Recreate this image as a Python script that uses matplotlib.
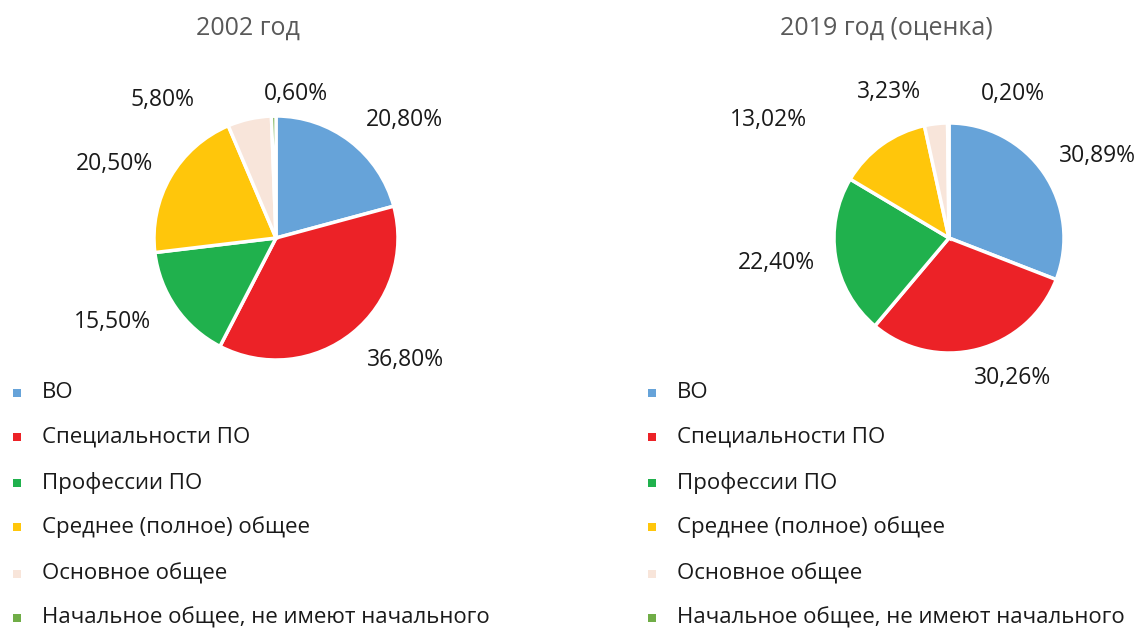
import matplotlib.pyplot as plt
from matplotlib.patches import Rectangle

plt.rcParams['font.family'] = ['Open Sans', 'DejaVu Sans']

categories = ['ВО', 'Специальности ПО', 'Профессии ПО', 'Среднее (полное) общее',
              'Основное общее', 'Начальное общее, не имеют начального']
values_2002 = [20.80, 36.80, 15.50, 20.50, 5.80, 0.60]
values_2019 = [30.89, 30.26, 22.40, 13.02, 3.23, 0.20]
titles = ['2002 год', '2019 год (оценка)']
colors = ['#66A3D9', '#EC2227', '#20B14D', '#FFC60B', '#F8E5DA', '#70AD47']

W, H = 1142, 630
fig = plt.figure(figsize=(W / 100, H / 100), dpi=100)

# label positions in radius units (excel "best fit" placement)
lab_pos = [
    [(1.05, 0.97), (1.06, -1.0), (-1.34, -0.69), (-1.32, 0.61), (-0.93, 1.13), (0.16, 1.18)],
    [(1.29, 0.71), (0.55, -1.22), (-1.50, -0.22), (-1.57, 1.03), (-0.52, 1.27), (0.56, 1.25)],
]
pies = [(276, 238, 122), (949, 238, 115)]  # center x, center y (from top), radius in px
title_x = [248, 886]
legend_x = [17, 652]
legend_y = [393, 437, 483, 527, 574, 618]

for k, vals in enumerate([values_2002, values_2019]):
    cx, cy, r = pies[k]
    ax = fig.add_axes([(cx - r) / W, (H - cy - r) / H, 2 * r / W, 2 * r / H])
    ax.pie(vals, colors=colors, startangle=90, counterclock=False,
           wedgeprops=dict(edgecolor='white', linewidth=2.5))
    ax.set_xlim(-1, 1)
    ax.set_ylim(-1, 1)
    for v, (lx, ly) in zip(vals, lab_pos[k]):
        ax.text(lx, ly, f'{v:.2f}%'.replace('.', ','), ha='center', va='center',
                fontsize=16.5, color='#1a1a1a', clip_on=False)
    fig.text(title_x[k] / W, 1 - 28 / H, titles[k], ha='center', va='center',
             fontsize=18, color='#595959')
    for i, cat in enumerate(categories):
        yy = 1 - legend_y[i] / H
        fig.add_artist(Rectangle((legend_x[k] / W - 4 / W, yy - 4 / H), 8 / W, 8 / H,
                                 transform=fig.transFigure, color=colors[i], lw=0))
        fig.text((legend_x[k] + 25) / W, yy, cat, ha='left', va='center',
                 fontsize=16, color='#1a1a1a')

fig.savefig('out.png', dpi=100)
